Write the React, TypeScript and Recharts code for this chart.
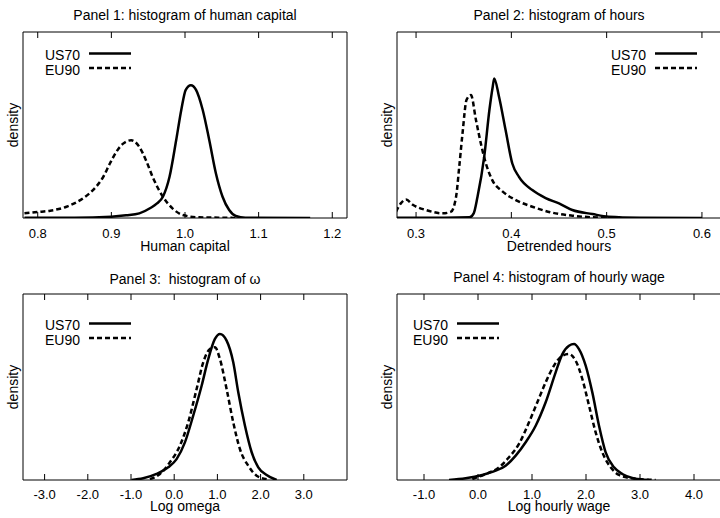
import { Legend, Line, LineChart, ReferenceLine, XAxis, YAxis } from 'recharts';

// Four gnuplot-style density panels (US70 vs EU90). Frame edges come from
// mirrored axes (no room taken from the plot); the inward tick marks are short
// reference segments at each x tick, 6px long in data units.

const FONT = '"Liberation Sans", Arial, Helvetica, sans-serif';

// Panel 1 — human capital
const HC_TICKS = [0.8, 0.9, 1.0, 1.1, 1.2];
const HC_US70_X = [0.782, 0.85, 0.9, 0.92, 0.938, 0.953, 0.962, 0.97, 0.979, 0.988, 0.995, 1.001, 1.008, 1.015, 1.024, 1.033, 1.042, 1.051, 1.06, 1.069, 1.082, 1.17];
const HC_US70_Y = [0.05, 0.05, 0.2, 0.4, 0.7, 1.5, 2.2, 3.2, 6.2, 11.7, 16.3, 19.3, 20.0, 19.3, 16.3, 11.7, 6.7, 3.2, 1.2, 0.3, 0.05, 0];
const HC_EU90_X = [0.782, 0.8, 0.817, 0.839, 0.862, 0.875, 0.889, 0.898, 0.907, 0.916, 0.927, 0.938, 0.947, 0.956, 0.97, 0.983, 0.997, 1.019, 1.064, 1.07];
const HC_EU90_Y = [0.7, 0.9, 1.1, 1.7, 3.0, 4.2, 6.2, 8.2, 10.0, 11.2, 11.7, 10.7, 8.7, 6.2, 3.2, 1.45, 0.45, 0.1, 0.02, 0];

// Panel 2 — detrended hours
const HR_TICKS = [0.3, 0.4, 0.5, 0.6];
const HR_US70_X = [0.28, 0.33, 0.356, 0.3605, 0.3645, 0.3715, 0.377, 0.3805, 0.382, 0.387, 0.394, 0.401, 0.408, 0.422, 0.436, 0.45, 0.464, 0.485, 0.502, 0.535, 0.6];
const HR_US70_Y = [0.05, 0.05, 0.1, 0.7, 3.2, 9.2, 16.3, 19.8, 21.0, 18.3, 13.2, 8.2, 6.2, 4.2, 3.0, 2.2, 1.2, 0.6, 0.2, 0.05, 0];
const HR_EU90_X = [0.279, 0.284, 0.2895, 0.2965, 0.3105, 0.328, 0.3367, 0.342, 0.3453, 0.3488, 0.353, 0.3576, 0.3628, 0.368, 0.3733, 0.38, 0.3907, 0.4047, 0.422, 0.443, 0.464, 0.485, 0.5];
const HR_EU90_Y = [0.95, 2.2, 2.8, 2.0, 1.2, 0.7, 0.95, 3.2, 7.7, 12.8, 17.8, 18.5, 14.8, 11.2, 8.2, 5.7, 4.0, 2.7, 1.7, 0.8, 0.35, 0.1, 0.02];

// Panel 3 — log omega
const OM_TICKS = [-3, -2, -1, 0, 1, 2, 3];
const OM_US70_X = [-0.987, -0.718, -0.408, -0.139, 0.055, 0.248, 0.44, 0.635, 0.788, 0.943, 1.059, 1.213, 1.367, 1.483, 1.638, 1.793, 1.946, 2.14, 2.372];
const OM_US70_Y = [0, 0.011, 0.039, 0.082, 0.135, 0.243, 0.415, 0.608, 0.78, 0.91, 0.942, 0.899, 0.759, 0.566, 0.35, 0.179, 0.082, 0.032, 0];
const OM_EU90_X = [-0.563, -0.331, -0.1, 0.132, 0.324, 0.519, 0.672, 0.827, 0.943, 1.059, 1.213, 1.367, 1.521, 1.714, 1.908, 2.14];
const OM_EU90_Y = [0.006, 0.039, 0.114, 0.221, 0.372, 0.587, 0.759, 0.845, 0.856, 0.78, 0.587, 0.372, 0.2, 0.092, 0.028, 0.005];

// Panel 4 — log hourly wage
const WG_TICKS = [-1, 0, 1, 2, 3, 4];
const WG_US70_X = [-0.537, -0.228, 0.08, 0.327, 0.512, 0.698, 0.883, 1.068, 1.253, 1.438, 1.562, 1.685, 1.778, 1.87, 1.994, 2.117, 2.241, 2.364, 2.519, 2.672, 2.857, 3.167];
const WG_US70_Y = [0, 0.009, 0.027, 0.05, 0.077, 0.131, 0.203, 0.292, 0.418, 0.579, 0.677, 0.722, 0.731, 0.704, 0.615, 0.471, 0.292, 0.149, 0.068, 0.032, 0.011, 0];
const WG_EU90_X = [-0.105, 0.142, 0.389, 0.574, 0.759, 0.944, 1.099, 1.253, 1.407, 1.562, 1.685, 1.809, 1.932, 2.056, 2.179, 2.302, 2.457, 2.611, 2.857, 3.29];
const WG_EU90_Y = [0.005, 0.032, 0.068, 0.122, 0.194, 0.31, 0.418, 0.525, 0.615, 0.668, 0.677, 0.641, 0.543, 0.4, 0.256, 0.149, 0.068, 0.027, 0.009, 0];

const PLOT_W = 324;
const PLOT_H = 186;
const TICK_LEN = 6;

type Pt = { x: number; y: number };
const zip = (xs: number[], ys: number[]): Pt[] => xs.map((x, i) => ({ x, y: ys[i] }));

interface PanelSpec {
  title: string;
  xLabel: string;
  left: number;
  top: number;
  width: number;
  height: number;
  plotLeft: number;
  plotTop: number;
  tickMargin: number;
  labelOffset: number;
  titleTop: number;
  domain: [number, number];
  ticks: number[];
  yMax: number;
  us: Pt[];
  eu: Pt[];
  keyAt: { x: number; y: number };
}

const PANELS: PanelSpec[] = [
  {
    title: 'Panel 1: histogram of human capital',
    xLabel: 'Human capital',
    left: 0, top: 0, width: 360, height: 259,
    plotLeft: 23, plotTop: 32, tickMargin: 11, labelOffset: 8.5, titleTop: 6.5,
    domain: [0.78, 1.22], ticks: HC_TICKS, yMax: 28,
    us: zip(HC_US70_X, HC_US70_Y), eu: zip(HC_EU90_X, HC_EU90_Y),
    keyAt: { x: 44, y: 47 },
  },
  {
    title: 'Panel 2: histogram of hours',
    xLabel: 'Detrended hours',
    left: 360, top: 0, width: 362, height: 259,
    plotLeft: 37, plotTop: 32, tickMargin: 11, labelOffset: 8.5, titleTop: 6.5,
    domain: [0.28, 0.62], ticks: HR_TICKS, yMax: 28,
    us: zip(HR_US70_X, HR_US70_Y), eu: zip(HR_EU90_X, HR_EU90_Y),
    keyAt: { x: 250, y: 47 },
  },
  {
    title: 'Panel 3:  histogram of \u03c9',
    xLabel: 'Log omega',
    left: 0, top: 259, width: 360, height: 259,
    plotLeft: 23, plotTop: 35, tickMargin: 9.5, labelOffset: 7, titleTop: 12.2,
    domain: [-3.5, 4.0], ticks: OM_TICKS, yMax: 1.2,
    us: zip(OM_US70_X, OM_US70_Y), eu: zip(OM_EU90_X, OM_EU90_Y),
    keyAt: { x: 44, y: 58 },
  },
  {
    title: 'Panel 4: histogram of hourly wage',
    xLabel: 'Log hourly wage',
    left: 360, top: 259, width: 362, height: 259,
    plotLeft: 37, plotTop: 35, tickMargin: 9.5, labelOffset: 7, titleTop: 9.9,
    domain: [-1.5, 4.5], ticks: WG_TICKS, yMax: 1.0,
    us: zip(WG_US70_X, WG_US70_Y), eu: zip(WG_EU90_X, WG_EU90_Y),
    keyAt: { x: 52, y: 58 },
  },
];

const KEYS = [
  { name: 'US70', dash: undefined as string | undefined },
  { name: 'EU90', dash: '5 3' },
];

function KeyBox() {
  return (
    <svg width={100} height={34} style={{ display: 'block', overflow: 'visible' }}>
      {KEYS.map((k, i) => (
        <g key={k.name}>
          <text x={36} y={13 + i * 14.5} textAnchor="end" fontSize={14} fill="#000">
            {k.name}
          </text>
          <line
            x1={45}
            x2={87}
            y1={6.5 + i * 14.5}
            y2={6.5 + i * 14.5}
            stroke="#000"
            strokeWidth={2.5}
            strokeDasharray={k.dash}
          />
        </g>
      ))}
    </svg>
  );
}

function DensityLabel(props: any) {
  const vb = props.viewBox;
  if (!vb) return null;
  const cx = vb.x - 5.5;
  const cy = vb.y + vb.height / 2;
  return (
    <text x={cx} y={cy} transform={`rotate(-90, ${cx}, ${cy})`} textAnchor="middle" fontSize={14} fill="#000">
      density
    </text>
  );
}

const FRAME = { stroke: '#000', strokeWidth: 1 };

function Panel({ spec }: { spec: PanelSpec }) {
  const axisHeight = spec.height - spec.plotTop - PLOT_H;
  const tickSpan = (TICK_LEN / PLOT_H) * spec.yMax;
  return (
    <div style={{ position: 'absolute', left: spec.left, top: spec.top, width: spec.width, height: spec.height }}>
      <div
        style={{
          position: 'absolute',
          left: spec.plotLeft,
          width: PLOT_W,
          top: spec.titleTop,
          textAlign: 'center',
          fontSize: 14,
          lineHeight: '16px',
          whiteSpace: 'pre',
          color: '#000',
        }}
      >
        {spec.title}
      </div>
      <LineChart
        width={spec.width}
        height={spec.height}
        margin={{ top: spec.plotTop, left: spec.plotLeft, right: spec.width - spec.plotLeft - PLOT_W, bottom: 0 }}
      >
        <XAxis
          xAxisId="b"
          dataKey="x"
          type="number"
          domain={spec.domain}
          ticks={spec.ticks}
          allowDataOverflow
          interval={0}
          height={axisHeight}
          tickSize={0}
          tickMargin={spec.tickMargin}
          tick={{ fill: '#000', fontSize: 13 }}
          tickFormatter={(v: number) => v.toFixed(1)}
          axisLine={false}
          tickLine={false}
          label={{ value: spec.xLabel, position: 'insideBottom', offset: spec.labelOffset, fill: '#000', fontSize: 14 }}
        />
        <XAxis
          xAxisId="bf"
          orientation="bottom"
          mirror
          type="number"
          domain={spec.domain}
          allowDataOverflow
          height={6}
          tick={false}
          tickLine={false}
          axisLine={FRAME}
        />
        <XAxis
          xAxisId="tf"
          orientation="top"
          mirror
          type="number"
          domain={spec.domain}
          allowDataOverflow
          height={6}
          tick={false}
          tickLine={false}
          axisLine={FRAME}
        />
        <YAxis
          yAxisId="l"
          type="number"
          domain={[0, spec.yMax]}
          allowDataOverflow
          mirror
          width={2}
          tick={false}
          tickLine={false}
          axisLine={FRAME}
          label={{ content: DensityLabel }}
        />
        <YAxis
          yAxisId="r"
          orientation="right"
          mirror
          type="number"
          domain={[0, spec.yMax]}
          allowDataOverflow
          width={2}
          tick={false}
          tickLine={false}
          axisLine={FRAME}
        />
        {spec.ticks.map((t) => (
          <ReferenceLine
            key={`b${t}`}
            xAxisId="b"
            yAxisId="l"
            segment={[
              { x: t, y: 0 },
              { x: t, y: tickSpan },
            ]}
            stroke="#000"
            strokeWidth={1}
            ifOverflow="visible"
          />
        ))}
        {spec.ticks.map((t) => (
          <ReferenceLine
            key={`t${t}`}
            xAxisId="b"
            yAxisId="l"
            segment={[
              { x: t, y: spec.yMax - tickSpan },
              { x: t, y: spec.yMax },
            ]}
            stroke="#000"
            strokeWidth={1}
            ifOverflow="visible"
          />
        ))}
        <Legend
          layout="horizontal"
          verticalAlign="middle"
          align="center"
          content={() => <KeyBox />}
          wrapperStyle={{ left: spec.keyAt.x, top: spec.keyAt.y, width: 100, height: 34 }}
        />
        <Line
          xAxisId="b"
          yAxisId="l"
          data={spec.us}
          dataKey="y"
          name="US70"
          type="monotone"
          stroke="#000"
          strokeWidth={2.5}
          dot={false}
          activeDot={false}
          isAnimationActive={false}
        />
        <Line
          xAxisId="b"
          yAxisId="l"
          data={spec.eu}
          dataKey="y"
          name="EU90"
          type="monotone"
          stroke="#000"
          strokeWidth={2.5}
          strokeDasharray="5 3"
          dot={false}
          activeDot={false}
          isAnimationActive={false}
        />
      </LineChart>
    </div>
  );
}

export default function App() {
  return (
    <div
      style={{
        position: 'absolute',
        left: 0,
        top: 0,
        width: 720,
        height: 518,
        overflow: 'hidden',
        background: '#fff',
        fontFamily: FONT,
      }}
    >
      {PANELS.map((p) => (
        <Panel key={p.title} spec={p} />
      ))}
    </div>
  );
}
